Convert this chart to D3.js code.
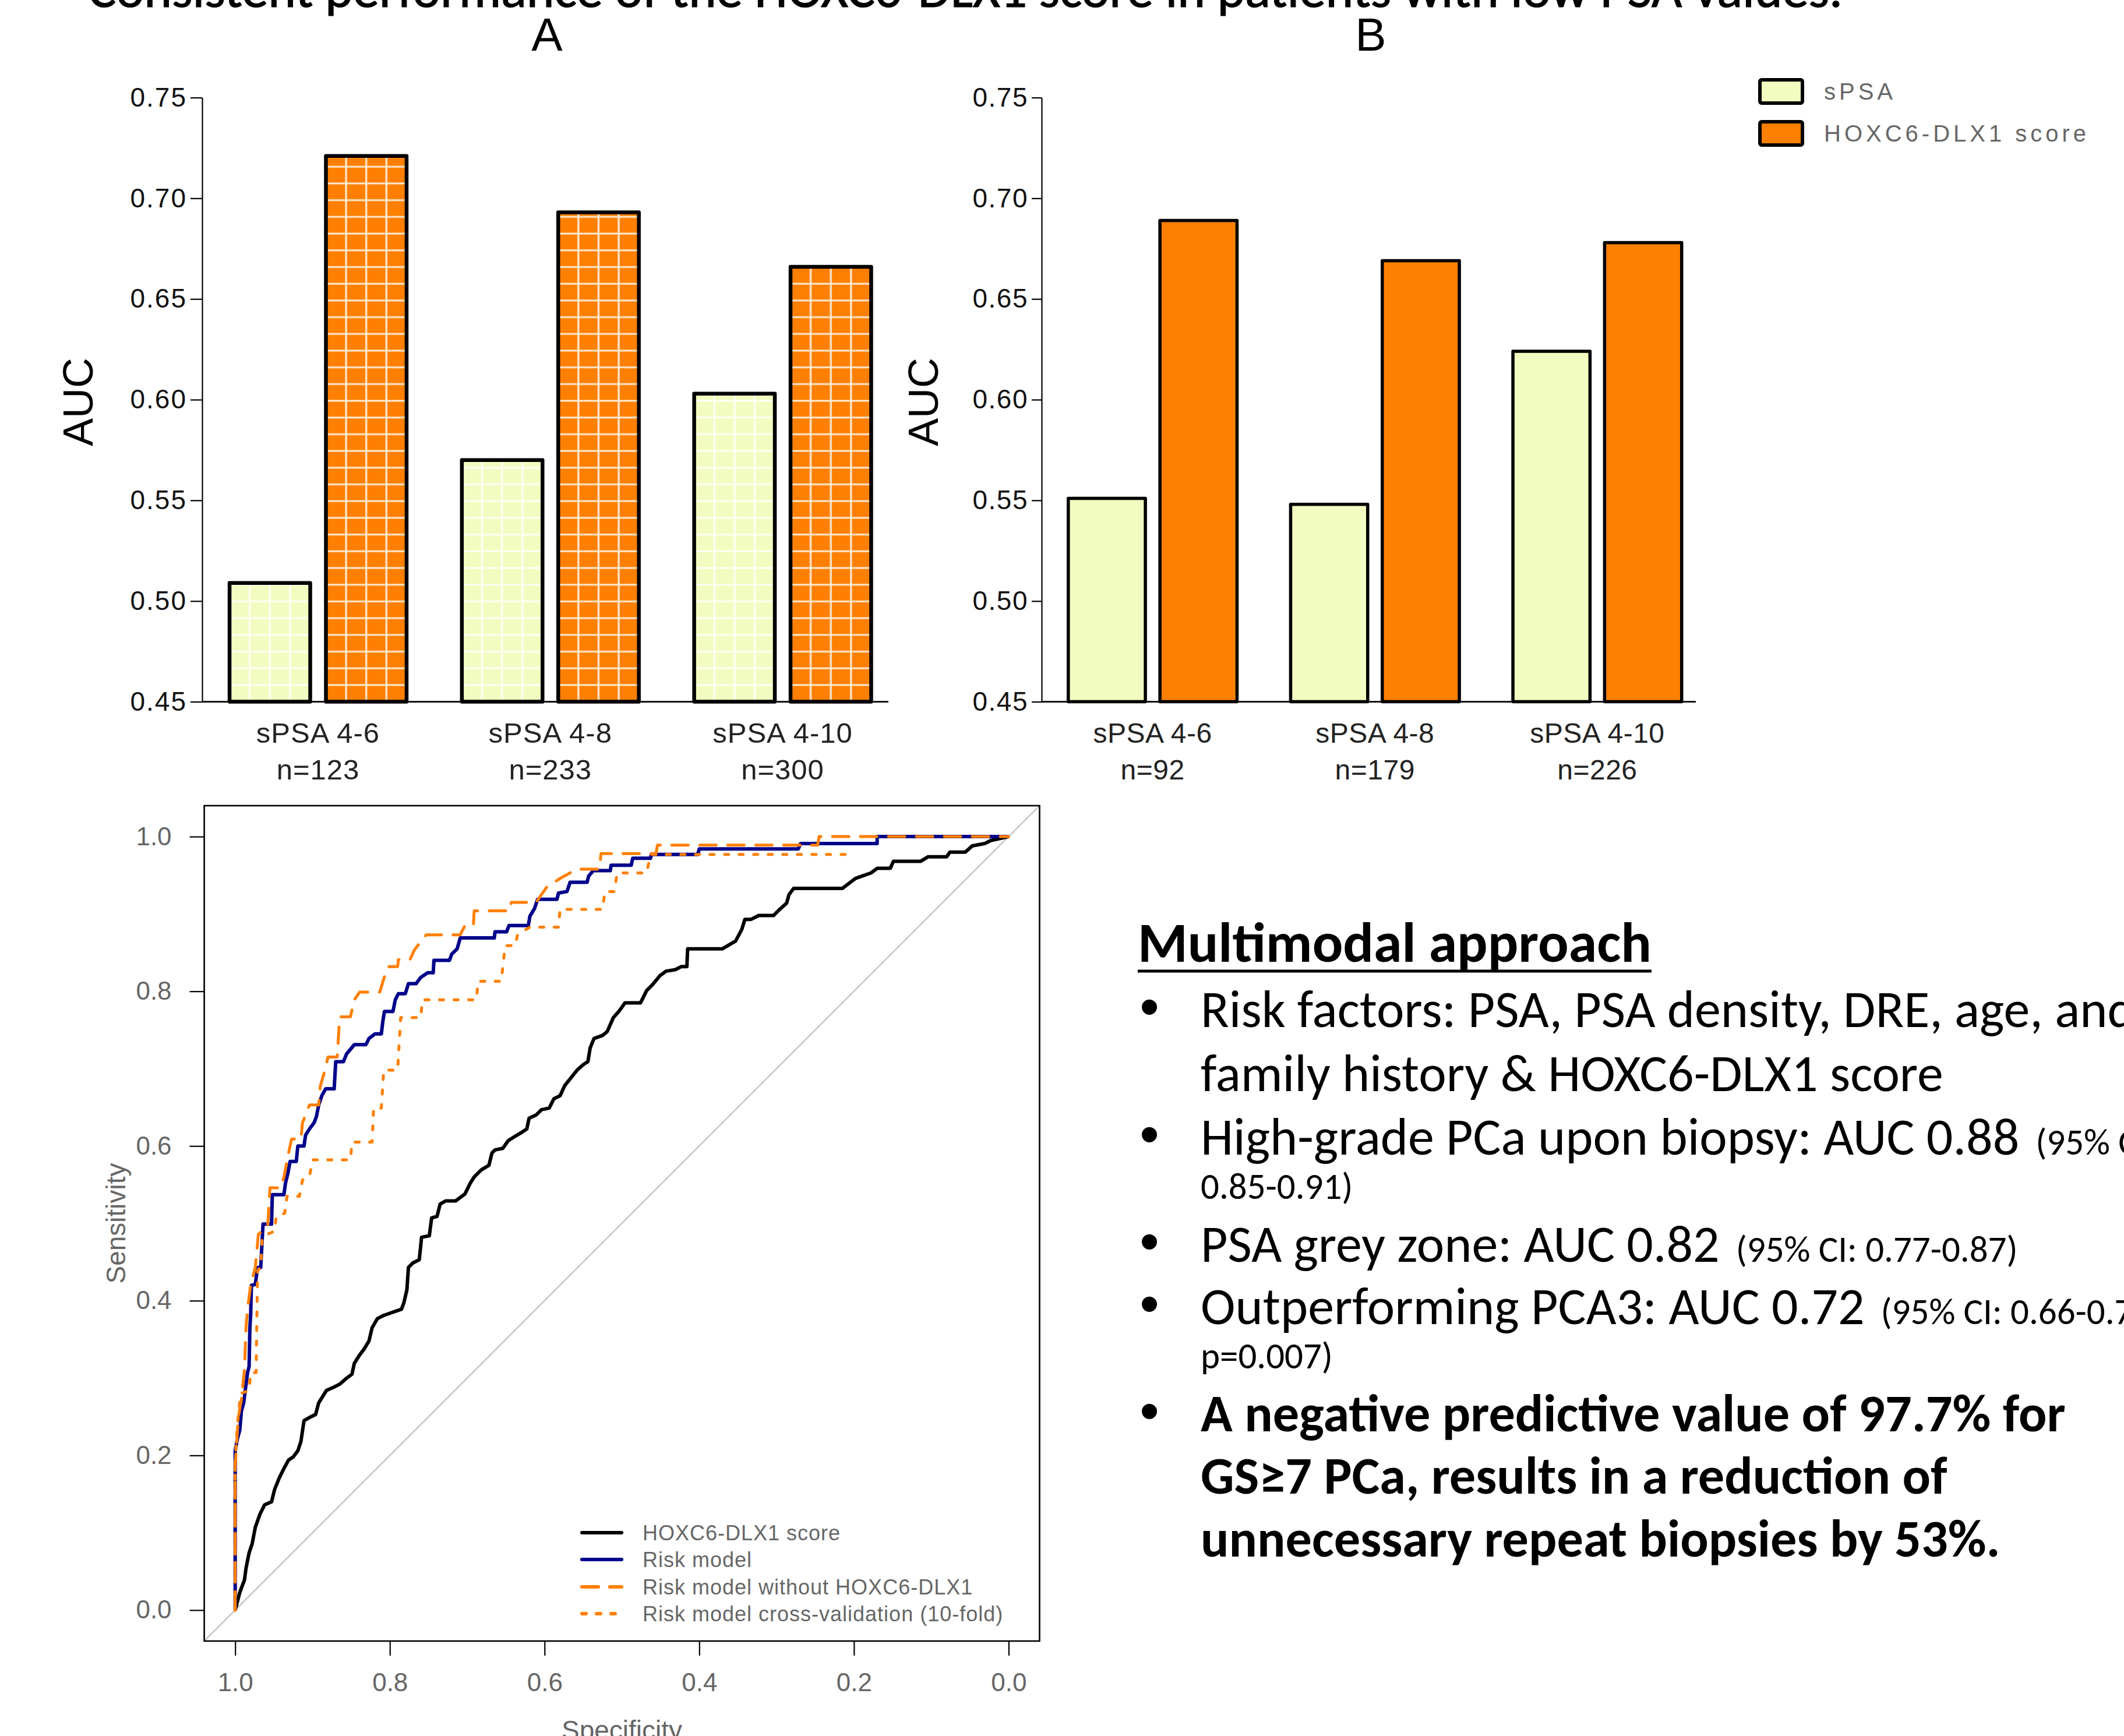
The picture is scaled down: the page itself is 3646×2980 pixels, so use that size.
<!DOCTYPE html>
<html><head><meta charset="utf-8">
<script src="https://cdn.jsdelivr.net/npm/d3@7"></script>
<style>
html,body{margin:0;padding:0;background:#fff;}
svg{display:block;}
</style></head><body>
<svg id="c" width="3646" height="2980"></svg>
<script>
// ---------------- DATA ----------------
const barCategories = ["sPSA 4-6", "sPSA 4-8", "sPSA 4-10"];
const seriesNames = ["sPSA", "HOXC6-DLX1 score"];
const nLabelsA = ["n=123", "n=233", "n=300"];
const nLabelsB = ["n=92", "n=179", "n=226"];
const aucA_PSA = [0.509, 0.570, 0.603];
const aucA_HOX = [0.721, 0.693, 0.666];
const aucB_PSA = [0.551, 0.548, 0.624];
const aucB_HOX = [0.689, 0.669, 0.678];
const barTicks = [0.45, 0.50, 0.55, 0.60, 0.65, 0.70, 0.75];
const rocTicks = [0.0, 0.2, 0.4, 0.6, 0.8, 1.0];
const rocLegendLabels = ["HOXC6-DLX1 score", "Risk model", "Risk model without HOXC6-DLX1", "Risk model cross-validation (10-fold)"];
const titleText = "Consistent performance of the HOXC6-DLX1 score in patients with low PSA values.";
const panelTitles = ["A", "B"];

// ROC curves: [specificity, sensitivity]
const rocBlack = [[1.000,0.000],[0.994,0.023],[0.988,0.039],[0.986,0.054],[0.982,0.074],[0.978,0.086],[0.974,0.107],[0.968,0.124],[0.962,0.136],[0.953,0.140],[0.949,0.156],[0.943,0.171],[0.937,0.183],[0.931,0.194],[0.925,0.198],[0.919,0.206],[0.915,0.218],[0.911,0.245],[0.904,0.249],[0.896,0.253],[0.892,0.268],[0.887,0.276],[0.882,0.284],[0.873,0.288],[0.865,0.292],[0.857,0.299],[0.849,0.305],[0.846,0.319],[0.839,0.330],[0.833,0.338],[0.827,0.348],[0.823,0.365],[0.816,0.377],[0.808,0.381],[0.785,0.389],[0.782,0.397],[0.778,0.414],[0.776,0.443],[0.770,0.449],[0.762,0.453],[0.759,0.482],[0.749,0.484],[0.746,0.507],[0.739,0.509],[0.735,0.525],[0.728,0.529],[0.715,0.529],[0.703,0.538],[0.696,0.552],[0.691,0.560],[0.682,0.569],[0.672,0.575],[0.668,0.591],[0.664,0.595],[0.654,0.597],[0.647,0.607],[0.639,0.612],[0.629,0.618],[0.623,0.622],[0.620,0.636],[0.611,0.640],[0.604,0.647],[0.594,0.649],[0.588,0.661],[0.580,0.665],[0.574,0.678],[0.566,0.688],[0.558,0.698],[0.549,0.706],[0.544,0.709],[0.541,0.727],[0.536,0.739],[0.525,0.743],[0.519,0.748],[0.511,0.766],[0.504,0.774],[0.496,0.785],[0.476,0.785],[0.468,0.801],[0.460,0.809],[0.451,0.820],[0.443,0.826],[0.431,0.828],[0.423,0.832],[0.416,0.832],[0.415,0.855],[0.370,0.855],[0.353,0.865],[0.345,0.880],[0.341,0.893],[0.333,0.893],[0.323,0.898],[0.304,0.898],[0.296,0.906],[0.287,0.914],[0.284,0.925],[0.278,0.933],[0.215,0.933],[0.198,0.946],[0.178,0.953],[0.170,0.959],[0.153,0.959],[0.149,0.968],[0.114,0.968],[0.104,0.974],[0.080,0.974],[0.076,0.980],[0.056,0.980],[0.047,0.988],[0.031,0.991],[0.023,0.995],[0.000,1.000]];
const rocBlue = [[1.000,0.000],[1.000,0.206],[0.997,0.222],[0.994,0.233],[0.992,0.257],[0.989,0.268],[0.987,0.284],[0.984,0.307],[0.982,0.315],[0.981,0.365],[0.980,0.381],[0.979,0.420],[0.974,0.421],[0.971,0.443],[0.967,0.443],[0.964,0.499],[0.953,0.499],[0.952,0.537],[0.937,0.537],[0.935,0.552],[0.932,0.564],[0.929,0.580],[0.921,0.580],[0.919,0.600],[0.911,0.600],[0.909,0.614],[0.904,0.622],[0.898,0.630],[0.895,0.638],[0.892,0.653],[0.888,0.665],[0.883,0.674],[0.872,0.674],[0.870,0.709],[0.860,0.709],[0.856,0.719],[0.851,0.725],[0.846,0.731],[0.831,0.731],[0.827,0.739],[0.819,0.745],[0.811,0.745],[0.809,0.762],[0.807,0.774],[0.796,0.774],[0.793,0.789],[0.789,0.797],[0.780,0.797],[0.776,0.810],[0.766,0.810],[0.760,0.818],[0.751,0.824],[0.744,0.824],[0.743,0.840],[0.723,0.840],[0.720,0.848],[0.713,0.855],[0.709,0.869],[0.665,0.869],[0.664,0.877],[0.649,0.877],[0.646,0.885],[0.621,0.885],[0.619,0.897],[0.613,0.907],[0.609,0.919],[0.584,0.919],[0.582,0.927],[0.571,0.929],[0.567,0.941],[0.545,0.941],[0.543,0.949],[0.537,0.956],[0.515,0.956],[0.514,0.963],[0.488,0.963],[0.486,0.972],[0.463,0.972],[0.462,0.977],[0.402,0.977],[0.400,0.984],[0.272,0.984],[0.269,0.991],[0.170,0.991],[0.170,1.000],[0.000,1.000]];
const rocDashed = [[1.000,0.000],[1.000,0.187],[0.996,0.249],[0.992,0.272],[0.988,0.311],[0.986,0.365],[0.984,0.389],[0.980,0.420],[0.974,0.443],[0.970,0.486],[0.958,0.496],[0.955,0.546],[0.941,0.546],[0.937,0.560],[0.931,0.591],[0.927,0.609],[0.915,0.609],[0.913,0.630],[0.904,0.653],[0.892,0.653],[0.890,0.677],[0.884,0.698],[0.880,0.715],[0.868,0.715],[0.865,0.767],[0.851,0.767],[0.846,0.789],[0.839,0.799],[0.813,0.799],[0.808,0.816],[0.802,0.832],[0.790,0.832],[0.789,0.841],[0.774,0.841],[0.768,0.854],[0.753,0.873],[0.709,0.873],[0.703,0.885],[0.692,0.885],[0.691,0.904],[0.645,0.904],[0.643,0.915],[0.611,0.915],[0.597,0.935],[0.578,0.947],[0.558,0.958],[0.529,0.958],[0.527,0.978],[0.456,0.978],[0.454,0.989],[0.247,0.989],[0.245,1.000],[0.000,1.000]];
const rocDotted = [[1.000,0.000],[1.000,0.194],[0.997,0.241],[0.993,0.280],[0.982,0.284],[0.980,0.307],[0.973,0.307],[0.971,0.439],[0.967,0.443],[0.965,0.482],[0.958,0.486],[0.949,0.490],[0.947,0.509],[0.936,0.513],[0.933,0.535],[0.917,0.535],[0.913,0.556],[0.904,0.560],[0.900,0.582],[0.851,0.582],[0.849,0.605],[0.823,0.605],[0.821,0.649],[0.811,0.649],[0.808,0.698],[0.790,0.698],[0.786,0.766],[0.760,0.766],[0.758,0.789],[0.688,0.789],[0.686,0.813],[0.656,0.813],[0.651,0.859],[0.638,0.859],[0.635,0.873],[0.619,0.883],[0.582,0.883],[0.580,0.906],[0.525,0.906],[0.522,0.929],[0.510,0.929],[0.506,0.953],[0.468,0.953],[0.463,0.977],[0.211,0.977]];

// bullet block text
const headingText = "Multimodal approach";
const bulletText = [
  [["Risk factors: PSA, PSA density, DRE, age, and", "r"]],
  [["family history & HOXC6-DLX1 score", "r"]],
  [["High-grade PCa upon biopsy: AUC 0.88", "r"], ["(95% CI:", "s"]],
  [["0.85-0.91)", "s"]],
  [["PSA grey zone: AUC 0.82", "r"], ["(95% CI: 0.77-0.87)", "s"]],
  [["Outperforming PCA3: AUC 0.72", "r"], ["(95% CI: 0.66-0.77;", "s"]],
  [["p=0.007)", "s"]],
  [["A negative predictive value of 97.7% for", "b"]],
  [["GS\u22657 PCa, results in a reduction of", "b"]],
  [["unnecessary repeat biopsies by 53%.", "b"]]
];
const bulletFlags = [true, false, true, false, true, true, false, true, false, false];

// ---------------- STYLE / LAYOUT ----------------
const W = 3646, H = 2980;
const lightFill = "#F3FCC0", orangeFill = "#FF7F00";
const seriesFill = [lightFill, orangeFill];
const arial = "'Liberation Sans', Arial, Helvetica, sans-serif";
const cal = "Carlito, Calibri, Lato, 'Open Sans', sans-serif";
const svg = d3.select("#c");
svg.append("rect").attr("width", W).attr("height", H).attr("fill", "#fff");
const defs = svg.append("defs");

// ---------- Title ----------
function measure(txt, family, weight, size) {
  const t = svg.append("text").attr("font-family", family).attr("font-weight", weight).attr("font-size", size).text(txt);
  const w = t.node().getComputedTextLength(); t.remove(); return w;
}
const fsTitle = 100 * 3012 / measure(titleText, cal, 400, 100);
svg.append("text").attr("x", 151).attr("y", 12).attr("font-family", cal).attr("font-size", fsTitle)
  .attr("fill", "#000").attr("stroke", "#000").attr("stroke-width", 1.2).text(titleText);

// ---------- Bar charts ----------
const yBar = d3.scaleLinear().domain([0.45, 0.75]).range([1204.6, 167.5]);

function barChart(cfg) {
  const g = svg.append("g");
  const x0 = d3.scaleBand().domain(barCategories).range(cfg.range).paddingInner(cfg.pi).paddingOuter(cfg.po);
  const x1 = d3.scaleBand().domain(seriesNames).range([0, x0.bandwidth()]).paddingInner(cfg.pi2);
  const base = yBar(0.45);
  const vals = [cfg.psa, cfg.hox];
  barCategories.forEach((c, i) => {
    seriesNames.forEach((s, j) => {
      const v = vals[j][i];
      const x = x0(c) + x1(s), w = x1.bandwidth(), y = yBar(v);
      let fill = seriesFill[j];
      if (cfg.pattern) {
        const id = cfg.id + "p" + i + "_" + j;
        const cw = w / 4, ch = 28.7;
        const p = defs.append("pattern").attr("id", id).attr("patternUnits", "userSpaceOnUse")
          .attr("x", x).attr("y", base).attr("width", cw).attr("height", ch);
        p.append("rect").attr("width", cw).attr("height", ch).attr("fill", seriesFill[j]);
        p.append("path").attr("d", `M0,0V${ch}M${cw},0V${ch}M0,0H${cw}M0,${ch}H${cw}`)
          .attr("stroke", "#fff").attr("stroke-opacity", 0.85).attr("stroke-width", 3.2).attr("fill", "none");
        fill = `url(#${id})`;
      }
      g.append("rect").attr("x", x).attr("y", y).attr("width", w).attr("height", base - y)
        .attr("fill", fill).attr("stroke", "#000").attr("stroke-width", cfg.barStroke).attr("stroke-linejoin", "round");
    });
    const cx = x0(c) + x0.bandwidth() / 2;
    g.append("text").attr("x", cx).attr("y", 1275).attr("text-anchor", "middle")
      .attr("font-family", arial).attr("font-size", cfg.catFs).attr("letter-spacing", cfg.catLs).attr("fill", "#222").text(c);
    g.append("text").attr("x", cx).attr("y", 1338).attr("text-anchor", "middle")
      .attr("font-family", arial).attr("font-size", cfg.catFs).attr("letter-spacing", cfg.catLs).attr("fill", "#222").text(cfg.n[i]);
  });
  // y axis
  const ax = g.append("g").attr("transform", `translate(${cfg.axisX},0)`)
    .call(d3.axisLeft(yBar).tickValues(barTicks).tickFormat(d3.format(".2f")).tickSize(cfg.tick).tickSizeOuter(0).tickPadding(cfg.tickPad));
  ax.select(".domain").attr("stroke", "#000").attr("stroke-width", 2.2);
  ax.selectAll(".tick line").attr("stroke", "#000").attr("stroke-width", 2.2);
  ax.selectAll(".tick text").attr("font-family", arial).attr("font-size", cfg.tickFs)
    .attr("letter-spacing", cfg.tickLs).attr("fill", "#111");
  // x baseline
  g.append("line").attr("x1", cfg.axisX).attr("x2", cfg.axisEnd).attr("y1", base).attr("y2", base)
    .attr("stroke", "#000").attr("stroke-width", 2.6);
  // AUC label
  g.append("text").attr("transform", `translate(${cfg.aucX},690) rotate(-90)`).attr("text-anchor", "middle")
    .attr("font-family", arial).attr("font-size", 72).attr("fill", "#000").text("AUC");
  // panel title
  g.append("text").attr("x", cfg.titleX).attr("y", 87).attr("text-anchor", "middle")
    .attr("font-family", arial).attr("font-size", 80).attr("fill", "#000").text(cfg.title);
}

barChart({ id: "A", title: panelTitles[0], titleX: 939, range: [347, 1542.5], pi: 0.238, po: 0.118, pi2: 0.163,
  psa: aucA_PSA, hox: aucA_HOX, n: nLabelsA, pattern: true, barStroke: 6.5,
  axisX: 347, axisEnd: 1525, tick: 20, tickPad: 6, tickFs: 46, tickLs: 2, catFs: 49, catLs: 1, aucX: 159 });
barChart({ id: "B", title: panelTitles[1], titleX: 2353, range: [1788, 2932.5], pi: 0.241, po: 0.12, pi2: 0.159,
  psa: aucB_PSA, hox: aucB_HOX, n: nLabelsB, pattern: false, barStroke: 5.5,
  axisX: 1788, axisEnd: 2911, tick: 17, tickPad: 6, tickFs: 46, tickLs: 1.5, catFs: 48, catLs: 0.5, aucX: 1610 });

// bar legend
const legB = svg.append("g");
seriesNames.forEach((s, j) => {
  const yc = [157, 229][j];
  legB.append("rect").attr("x", 3021).attr("y", yc - 20).attr("width", 73).attr("height", 40).attr("rx", 3)
    .attr("fill", seriesFill[j]).attr("stroke", "#000").attr("stroke-width", 6);
  legB.append("text").attr("x", 3131).attr("y", yc).attr("dy", "0.35em").attr("font-family", arial)
    .attr("font-size", 40).attr("letter-spacing", 6).attr("fill", "#666").text(s);
});

// ---------- ROC ----------
const xR = d3.scaleLinear().domain([1.04, -0.04]).range([350.6, 1784.5]);
const yR = d3.scaleLinear().domain([-0.04, 1.04]).range([2817, 1383]);
const roc = svg.append("g");
defs.append("clipPath").attr("id", "rocClip").append("rect")
  .attr("x", xR(1.04)).attr("y", yR(1.04)).attr("width", xR(-0.04) - xR(1.04)).attr("height", yR(-0.04) - yR(1.04));
const plotG = roc.append("g").attr("clip-path", "url(#rocClip)");
plotG.append("line").attr("x1", xR(1.04)).attr("y1", yR(-0.04)).attr("x2", xR(-0.04)).attr("y2", yR(1.04))
  .attr("stroke", "#BEBEBE").attr("stroke-width", 2.2);
const line = d3.line().x(d => xR(d[0])).y(d => yR(d[1]));
const rocSeries = [
  { data: rocBlack, color: "#000000", width: 6, dash: null },
  { data: rocBlue, color: "#00008B", width: 6, dash: null },
  { data: rocDashed, color: orangeFill, width: 5, dash: "28,20" },
  { data: rocDotted, color: orangeFill, width: 5, dash: "7,18" }
];
rocSeries.forEach(s => {
  plotG.append("path").attr("d", line(s.data)).attr("fill", "none").attr("stroke", s.color)
    .attr("stroke-width", s.width).attr("stroke-linejoin", "round").attr("stroke-linecap", s.dash ? "round" : "butt")
    .attr("stroke-dasharray", s.dash);
});
roc.append("rect").attr("x", xR(1.04)).attr("y", yR(1.04)).attr("width", xR(-0.04) - xR(1.04))
  .attr("height", yR(-0.04) - yR(1.04)).attr("fill", "none").attr("stroke", "#000").attr("stroke-width", 2.6);
const axB = roc.append("g").attr("transform", `translate(0,${yR(-0.04)})`)
  .call(d3.axisBottom(xR).tickValues(rocTicks).tickFormat(d3.format(".1f")).tickSize(25).tickSizeOuter(0).tickPadding(30));
const axL = roc.append("g").attr("transform", `translate(${xR(1.04)},0)`)
  .call(d3.axisLeft(yR).tickValues(rocTicks).tickFormat(d3.format(".1f")).tickSize(25).tickSizeOuter(0).tickPadding(31));
[axB, axL].forEach(a => {
  a.select(".domain").remove();
  a.selectAll(".tick line").attr("stroke", "#000").attr("stroke-width", 2.2);
  a.selectAll(".tick text").attr("font-family", arial).attr("font-size", 44).attr("fill", "#666");
});
roc.append("text").attr("x", (xR(1) + xR(0)) / 2).attr("y", 2986).attr("text-anchor", "middle")
  .attr("font-family", arial).attr("font-size", 46).attr("fill", "#666").text("Specificity");
roc.append("text").attr("transform", `translate(215,${(yR(0) + yR(1)) / 2}) rotate(-90)`).attr("text-anchor", "middle")
  .attr("font-family", arial).attr("font-size", 46).attr("fill", "#666").text("Sensitivity");
// ROC legend
const legY = [2631, 2677, 2724, 2770];
rocSeries.forEach((s, i) => {
  roc.append("line").attr("x1", 999).attr("x2", 1067).attr("y1", legY[i]).attr("y2", legY[i])
    .attr("stroke", s.color).attr("stroke-width", 6).attr("stroke-linecap", "round")
    .attr("stroke-dasharray", s.dash);
  roc.append("text").attr("x", 1103).attr("y", legY[i]).attr("dy", "0.35em").attr("font-family", arial)
    .attr("font-size", 36).attr("letter-spacing", 1).attr("fill", "#666").text(rocLegendLabels[i]);
});

// ---------- Bullet block ----------
const fsReg = 100 * 1275 / measure("family history & HOXC6-DLX1 score", cal, 400, 100);
const fsSmall = 100 * 484 / measure("(95% CI: 0.77-0.87)", cal, 400, 100);
const fsBold = 100 * 1485 / measure("A negative predictive value of 97.7% for", cal, 700, 100);
const fsHead = 100 * 882 / measure(headingText, cal, 700, 100);
const txtG = svg.append("g");
txtG.append("text").attr("x", 1953).attr("y", 1651).attr("font-family", cal).attr("font-weight", 700)
  .attr("font-size", fsHead).attr("fill", "#000").text(headingText);
txtG.append("line").attr("x1", 1953).attr("x2", 1953 + 882).attr("y1", 1667).attr("y2", 1667)
  .attr("stroke", "#000").attr("stroke-width", 5);
const lineY = [1763, 1873, 1982, 2058, 2166, 2273, 2349, 2457, 2564, 2672];
bulletText.forEach((parts, i) => {
  if (bulletFlags[i]) {
    txtG.append("text").attr("x", 1973).attr("y", lineY[i] - 2).attr("text-anchor", "middle")
      .attr("font-family", arial).attr("font-size", 96).attr("fill", "#000").text("\u2022");
  }
  const t = txtG.append("text").attr("x", 2061).attr("y", lineY[i]).attr("font-family", cal).attr("fill", "#000");
  parts.forEach((p, k) => {
    const sp = t.append("tspan").text(p[0]);
    if (p[1] === "r") sp.attr("font-size", fsReg);
    if (p[1] === "s") sp.attr("font-size", fsSmall);
    if (p[1] === "b") sp.attr("font-size", fsBold).attr("font-weight", 700);
    if (k > 0) sp.attr("dx", 28);
  });
});
</script>
</body></html>
